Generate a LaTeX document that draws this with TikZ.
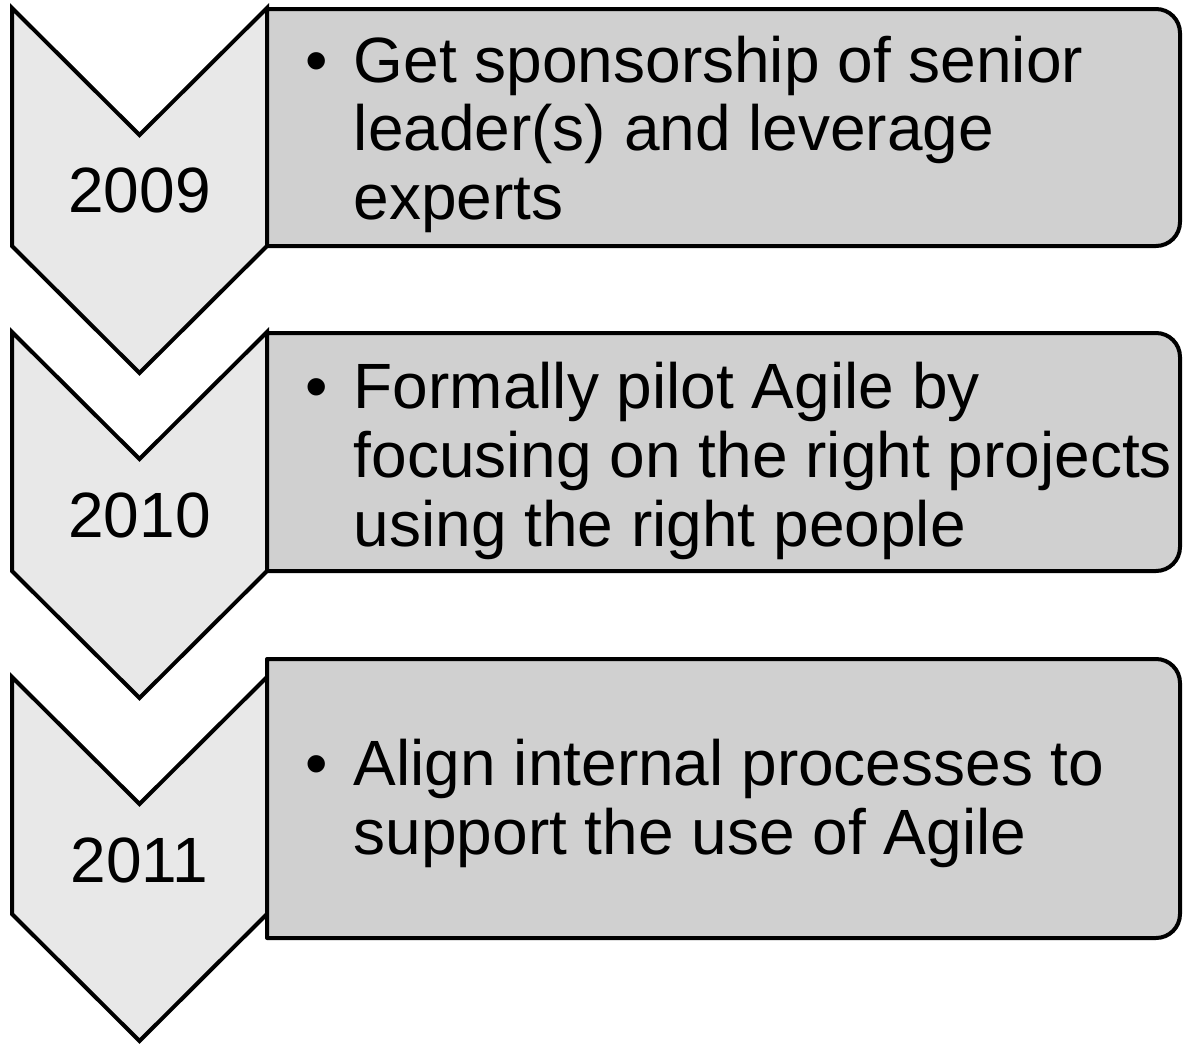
\documentclass[tikz,border=0pt]{standalone}
\usepackage{fontspec}
\setmainfont{Liberation Sans}
\usepackage{tikz}
\usetikzlibrary{positioning}

\definecolor{chevgray}{HTML}{E8E8E8}
\definecolor{boxgray}{HTML}{D0D0D0}

\tikzset{
	chev/.style={draw=black, fill=chevgray, line width=2pt, line join=miter},
	stepbox/.style={draw=black, fill=boxgray, line width=2pt, line join=round},
	yearlabel/.style={font=\fontsize{32}{36}\selectfont, inner sep=0pt, anchor=base},
	steptext/.style={font=\fontsize{32}{34.5}\selectfont, inner sep=0pt, anchor=base west},
}

\begin{document}
\begin{tikzpicture}[x=0.5pt,y=-0.5pt]
	\useasboundingbox (0,0) rectangle (1184,1044);
	% 2009
	\draw[chev] (12,8) -- (139.5,135) -- (267,8) -- (267,246) -- (139.5,373) -- (12,246) -- cycle;
	\draw[stepbox] (267,9) -- (1156,9) .. controls (1169.3,9) and (1180,19.7) .. (1180,33)
		-- (1180,222) .. controls (1180,235.3) and (1169.3,246) .. (1156,246) -- (267,246) -- cycle;
	\node[yearlabel] (year1) at (139.5,212) {2009};
	\node[steptext] (text1) at (305,82) {\begin{tabular}[t]{@{}l@{\hspace{13pt}}l@{}}
		\textbullet & Get sponsorship of senior\\
		& leader(s) and leverage\\
		& experts
	\end{tabular}};
	% 2010
	\draw[chev] (12,332) -- (139.5,459) -- (267,332) -- (267,571) -- (139.5,698) -- (12,571) -- cycle;
	\draw[stepbox] (267,333) -- (1156,333) .. controls (1169.3,333) and (1180,343.7) .. (1180,357)
		-- (1180,547) .. controls (1180,560.3) and (1169.3,571) .. (1156,571) -- (267,571) -- cycle;
	\node[yearlabel] (year2) at (139.5,537) {2010};
	\node[steptext] (text2) at (305,408) {\begin{tabular}[t]{@{}l@{\hspace{13pt}}l@{}}
		\textbullet & Formally pilot Agile by\\
		& focusing on the right projects\\
		& using the right people
	\end{tabular}};
	% 2011
	\draw[chev] (12,677) -- (139.5,804) -- (267,677) -- (267,914) -- (139.5,1041) -- (12,914) -- cycle;
	\draw[stepbox] (267,659) -- (1156,659) .. controls (1169.3,659) and (1180,669.7) .. (1180,683)
		-- (1180,914) .. controls (1180,927.3) and (1169.3,938) .. (1156,938) -- (267,938) -- cycle;
	\node[yearlabel] (year3) at (139.5,882) {2011};
	\node[steptext] (text3) at (305,785) {\begin{tabular}[t]{@{}l@{\hspace{13pt}}l@{}}
		\textbullet & Align internal processes to\\
		& support the use of Agile
	\end{tabular}};
\end{tikzpicture}
\end{document}
